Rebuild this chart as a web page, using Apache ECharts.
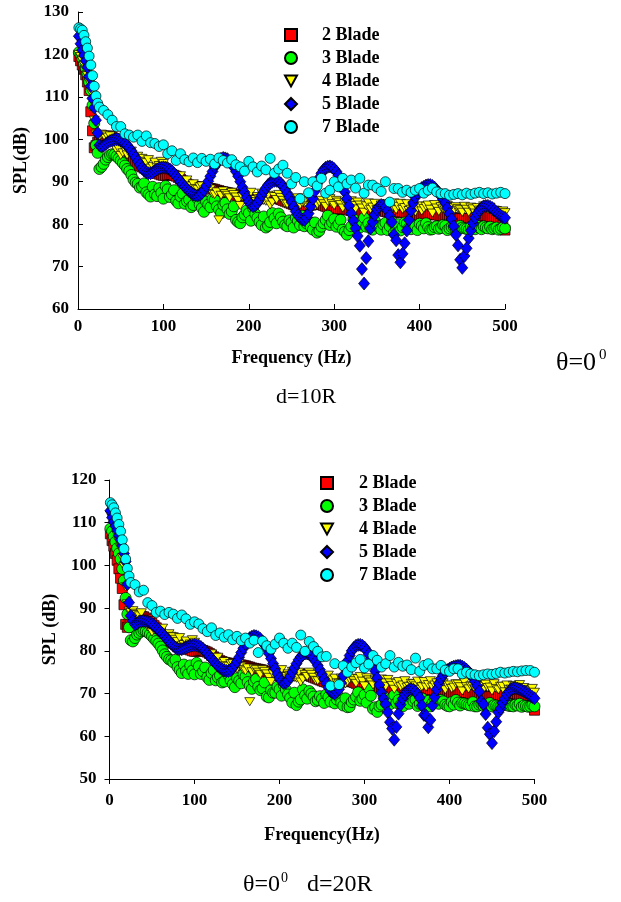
<!DOCTYPE html>
<html><head><meta charset="utf-8">
<script src="https://cdn.jsdelivr.net/npm/echarts@6/dist/echarts.min.js"></script>
<style>html,body{margin:0;padding:0;background:#fff}#c{width:621px;height:902px}</style>
</head><body><div id="c"></div>
<script>
// Frequency (Hz) of the samples
const freq = [1,3,5,7,9,11,13,15,17,19,21,23,25,30,35,40,45,50,55,60,65,70,75,80,85,90,95,100,105,110,115,120,125,130,135,140,145,150,155,160,165,170,175,180,185,190,195,200,205,210,215,220,225,230,235,240,245,250,255,260,265,270,275,280,285,290,295,300,305,310,315,320,325,330,335,340,345,350,355,360,365,370,375,380,385,390,395,400,405,410,415,420,425,430,435,440,445,450,455,460,465,470,475,480,485,490,495,500];
const freqMid = [27.5,32.5,37.5,42.5,47.5,52.5,57.5,62.5,67.5,72.5,
77.5,82.5,87.5,92.5,97.5,102.5,107.5,112.5,117.5,122.5,
127.5,132.5,137.5,142.5,147.5,152.5,157.5,162.5,167.5,172.5,
177.5,182.5,187.5,192.5,197.5,202.5,207.5,212.5,217.5,222.5,
227.5,232.5,237.5,242.5,247.5,252.5,257.5,262.5,267.5,272.5,
277.5,282.5,287.5,292.5,297.5,302.5,307.5,312.5,317.5,322.5,
327.5,332.5,337.5,342.5,347.5,352.5,357.5,362.5,367.5,372.5,
377.5,382.5,387.5,392.5,397.5,402.5,407.5,412.5,417.5,422.5,
427.5,432.5,437.5,442.5,447.5,452.5,457.5,462.5,467.5,472.5,
477.5,482.5,487.5,492.5,497.5];
const seriesNames = ['2 Blade','3 Blade','4 Blade','5 Blade','7 Blade'];
const xTicks = [0,100,200,300,400,500];
const yTicksTop = [60,70,80,90,100,110,120,130];
const yTicksBottom = [50,60,70,80,90,100,110,120];

// ---- d = 10R (values at freq) ----
const d10_2blade = [119.5,118.5,117.5,116.5,115.2,113.5,111.5,106.5,102,98,98.5,99.3,100,100.6,100.8,100.5,99.8,98.6,97.5,96,94.8,94,93.5,93,92.8,92.3,91.8,91.5,91.6,91.7,91.3,90.6,89.8,89.2,88.9,88.8,88.6,88.5,88.4,88.2,87.9,87.6,87.4,87.2,86.8,86.4,86.2,86,85.9,85.9,86.1,86.2,86.3,86.2,86,85.6,85.2,84.8,84.5,84.3,84.3,84.4,84.6,84.8,84.6,84.2,83.7,83.5,83.5,83.6,83.5,83.2,83,82.8,82.8,83,83.2,83.3,83.2,83,82.8,82.8,82.9,82.9,82.6,82.4,82.2,82,82,82.2,82.3,82.2,82,81.8,81.6,81.5,81.4,81.3,81.3,81.4,81.6,81.8,82,81.9,81.6,81.2,80.8,78.6];
const d10_3blade = [120.5,120,119,117.8,116.8,115.5,113.5,111.5,108,103.8,98.6,96.8,93,94.2,95.8,96.5,96,95,93.8,92.5,90.5,89.5,88.8,87.5,86.5,87,88.5,86,88.2,87,85.5,86.5,84.8,85.8,84.5,86,83.8,85.3,84,85.7,83.4,84.5,83.5,83,81,80.2,82.2,82.6,83.8,81.5,79.8,79.2,80.5,81.4,82.5,80.6,79.5,80.4,81.5,79.8,79.5,80.8,78.7,78,79.4,81,79.8,81.2,80,78.7,77.5,79.5,80.3,79.2,81.5,80.2,78.7,79.6,78.7,80.3,79.5,78,80,79.3,80.2,78.8,79.5,80.1,79,79.3,78.8,79.5,79.1,79.6,79,79.4,78.7,79.2,78.9,79.4,78.8,79.1,79.5,79,78.8,79.2,78.9,79];
const d10_4blade = [120,119.5,118.5,117.5,116.5,115,113.5,111.2,109,104.5,101.2,100.8,100.6,101,100.5,99.5,97.5,96.2,97.5,96.8,95.5,96,95.5,94.5,93.2,94.6,93.8,94.3,92.6,91.8,90.5,91.4,89.5,88.6,89.5,88.2,89,87.5,88.3,87,81,87.8,86.8,87.5,86.4,84.4,87.2,86.8,85.8,86.5,87.3,85.4,84.5,86.5,87,85.6,84.7,86,85.2,84.5,85.5,84,84.8,84.6,85.6,84.2,86,84.4,85.2,83.8,84.8,85.5,83.6,84.5,82.8,85,84,83.4,84.5,83.7,82.8,85,84.2,83.5,84.8,83.5,82.9,84.3,83.7,84.5,82.6,83.8,84.1,83.3,84,83.2,83.7,82.8,83.5,84,82.6,83.3,84.3,83.4,82.9,83.2,82.8,82.7];
const d10_5blade = [124.3,122.5,121,119.8,118.5,117,114.8,112.5,109.6,107.5,104.5,101.5,98.6,98.5,99.3,99.8,100,99.7,99,98,96.5,94.8,93.2,92.2,92,92.6,93.2,93.4,93.2,92.5,91.3,90,88.8,87.8,87,86.7,87.3,89,91.3,93.5,95,95.6,95.3,94.2,92.4,90,87.5,85.3,84.2,85,86.8,88.5,89.7,90.2,90,89,87.3,85.2,83,81.5,81,82.5,86,89.5,92,93.3,93.6,93,91.5,89,86,82.5,79,74.9,66,76,80.5,83.5,84.5,84,82,77.5,72.7,73,78.5,83.2,86.3,88,88.8,89.2,89,88,86.6,85,82.5,79.5,75,69.7,74.3,78.5,81.5,83.3,84.2,84.3,83.8,82.8,82,81.5];
const d10_7blade = [126.3,126,125.7,124.5,123,121.5,119.6,117.5,115,112.5,110.2,108.5,107.6,106.8,105.8,104.5,103,103,101.3,101,100.5,101,99.5,100.8,99.2,99,98.3,98.7,96.6,97.3,95,96.6,95.2,94.7,95.6,94.5,95.5,94.8,95.3,94.2,95.6,95,94.4,95.2,94,93.5,92.5,94.8,93.5,92.3,93.7,92.8,95.5,92,93,93.9,92,89.5,91,86,90,87.4,90,89,90.8,87.3,88,90,88.8,90.8,89.5,90.4,88.5,90.8,87.3,89.2,89.2,88.5,87.7,90,85.2,88.4,88.4,87.5,88,87.5,88,88.4,87.3,88,88.5,87.6,87.2,87.2,86.8,87,87.2,86.9,87.3,87,87.3,87.5,87.2,87.4,87.1,87.3,87.5,87.2];
// ---- d = 10R (values at freqMid; the 7 Blade data has no mid samples) ----
const d10_2blade_mid = [100.3,100.7,100.7,100.2,99.2,98.1,96.8,95.4,94.4,93.7,
93.2,92.9,92.5,92,91.6,91.5,91.7,91.5,91,90.2,
89.5,89,88.8,88.7,88.5,88.4,88.3,88,87.7,87.5,
87.3,87,86.6,86.3,86.1,85.9,85.9,86,86.2,86.3,
86.3,86.1,85.8,85.4,85,84.6,84.4,84.3,84.3,84.5,
84.7,84.7,84.4,84,83.6,83.5,83.6,83.6,83.3,83.1,
82.9,82.8,82.9,83.1,83.3,83.3,83.1,82.9,82.8,82.8,
82.9,82.8,82.5,82.3,82.1,82,82.1,82.3,82.3,82.1,
81.9,81.7,81.5,81.4,81.3,81.3,81.3,81.5,81.7,81.9,
82,81.8,81.4,81,80.4];
const d10_3blade_mid = [93.5,95.2,96.3,96.4,95.5,94.4,93,91.6,89.8,88.6,
89.6,87,88.8,86.6,87.4,89,86.4,88,84.9,87.2,
85.4,84,86.6,84.6,82.9,84.6,86,84.2,82.6,85,
82.4,84.2,80.5,81.6,83.2,80.8,82.4,80.5,81.8,79.6,
82.6,80.2,81.6,79.8,80.9,79.2,80.8,82,80.2,79.3,
80.4,78.4,80.2,82,80.4,79.4,81,78.2,78.6,81.2,
79.8,80.6,79.4,79,80.8,79.2,79.9,78.6,80.6,79,
78.5,80.4,79.1,79.8,78.6,79.6,80.2,78.7,79.3,78.9,
79.8,78.6,79.3,78.9,79.6,79,78.7,79.2,79.6,78.8,
79.2,79.4,79,78.7,79.2];
const d10_4blade_mid = [101.2,100.2,100.8,98.6,97.8,96.8,96.3,97.2,95.2,95.4,
94.8,95.2,93.6,93.4,94.8,93.2,92.2,91.2,90.2,89.8,
90.4,89,88.4,88.8,87.6,88.6,87.2,87.6,86.8,87.2,
86.2,87,85.6,86.4,86.2,87.5,85.3,86,85.6,86.8,
85.2,85.8,86.3,84.9,85.7,84.6,86.2,85.1,84.3,85.4,
84.2,85.2,84.8,85.4,84.8,85.6,84.6,85,84.2,84.4,
85.2,83.8,84.3,83.5,84.9,83.6,84.2,84.8,83.5,83.4,
84.9,83.9,83.2,84.4,83.8,83.1,84.2,83.5,84.6,83,
83.6,84.4,82.9,84.1,83.4,84.2,82.8,83.6,83.9,82.9,
83.6,84,83.3,82.7,83.1];
const d10_5blade_mid = [98.3,98.9,99.6,99.9,99.9,99.4,98.6,97.3,95.7,94,
92.6,92,92.2,92.9,93.3,93.3,92.9,91.9,90.7,89.4,
88.3,87.4,86.8,86.9,88,90.1,92.4,94.3,95.4,95.5,
94.8,93.4,91.3,88.7,86.3,84.6,84.4,85.8,87.7,89.2,
90,90.2,89.6,88.2,86.3,84.1,82.1,81.1,81.5,84.2,
87.8,90.9,92.8,93.5,93.4,92.4,90.3,87.6,84.3,80.8,
77.2,69.4,72,79,82.2,84.1,84.4,83.2,80.5,76.2,
71,75.5,81,85,87.3,88.5,89.1,89.2,88.6,87.4,
85.8,83.8,81.2,77.5,71.6,72.5,76.7,80.2,82.5,83.8,
84.3,84.1,83.3,82.4,81.7];

// ---- d = 20R (values at freq) ----
const d20_2blade = [107.4,105.8,104.5,102.8,101.2,99.2,97,94.6,90.8,86.2,85.5,86.4,87.3,88,88.2,88,87.4,86.4,85.4,84.2,83,82.3,81.8,81.4,81.1,80.7,80.2,79.9,80,80.1,79.7,79,78.3,77.7,77.3,77.1,76.9,76.8,76.7,76.5,76.2,75.9,75.7,75.5,75.1,74.7,74.4,74.2,74.1,74.1,74.3,74.4,74.5,74.4,74.2,73.8,73.4,73,72.7,72.5,72.5,72.6,72.8,73,72.8,72.4,71.9,71.7,71.7,71.8,71.6,71.3,71.1,70.9,70.9,71.1,71.3,71.4,71.3,71.1,70.9,70.8,70.9,70.9,70.6,70.4,70.2,70,70,70.2,70.3,70.2,70,69.8,69.6,69.5,69.4,69.3,69.3,69.4,69.6,69.8,70,69.9,69.6,69.2,68.8,66.1];
const d20_3blade = [108.6,108,106.8,105.5,104,102.8,101.5,99.2,96.5,92.4,88.6,85.5,82.5,83,84.2,84.8,84.3,83.4,82.3,81,79.2,78,77.3,76.2,74.8,75.3,76.6,74.5,76.4,75.2,73.8,74.8,73.1,74.2,72.8,74.3,72.2,73.6,72.4,74,71.8,72.8,71.6,71.2,69.3,70.8,70.2,71,72,69.8,67.9,67.3,68.6,69.6,70.6,69.3,68.5,68.8,69.8,68.1,67.7,69.2,67.2,66.8,68,69.3,68.3,69.7,71.3,66.4,65.7,67.4,67.8,67.5,69.6,68.5,67,68.2,69,68.6,67.6,67.8,68.3,67.8,68.6,68.5,67.4,67,67.4,67.9,67.8,67.5,67.2,67,67.4,67.1,67.3,67,67.2,67,67.3,67.1,67,67.2,66.9,67.1,67,67];
const d20_4blade = [111.8,111,109.6,108.5,107,105.5,104,101.8,99.8,95,91,89.3,89,88.8,88.2,87.3,85.6,84.4,85.2,84.6,83.4,84,83.3,82.2,81.2,82.3,81.6,82,80.6,79.8,78.6,79.3,77.6,76.8,77.5,76.4,77,75.8,76.4,75.3,68.1,75.8,75,75.6,74.6,72.8,75.3,74.8,74,74.6,75.2,73.6,72.7,74.5,75,73.8,73,74.2,73.4,72.8,73.6,72.4,73,72.8,73.6,72.4,74,71.8,73.2,72,72.8,73.4,71.7,72.5,71,72.8,72,71.5,72.4,71.8,71,72.8,72.1,71.5,72.5,71.4,70.9,72,71.5,72.2,70.6,71.6,71.8,71.1,71.7,71,71.4,70.6,71.2,71.7,70.4,71,71.9,71.1,70.6,70.9,70.6,70.3];
const d20_5blade = [112.8,111.2,110.2,109.2,108.3,107,106,104.6,102.8,100.9,95.6,91.3,88.2,86.2,86.8,87,86.8,86.3,85.4,84.5,83.4,82.3,81.2,80.5,80.4,80.8,81.2,81.4,81.2,80.5,79.4,78.2,77,76,75.4,75.3,76,77.5,79.6,81.6,83,83.5,83.2,82.2,80.5,78.2,75.8,73.6,72.4,73,75,77,78.6,79.4,79.2,78.3,76.6,74.5,72.4,70.6,70,71,74.2,77.6,80,81.2,81.4,80.8,79.2,76.8,73.6,70.2,67.5,63.3,59.2,65.3,68.8,70.5,71,70.5,69,65,62.1,67.2,71,73.5,75,75.8,76.3,76.5,76.3,75.6,74.5,72.8,70.5,67.5,62,58.4,63.4,66.5,68.8,70.5,71.2,71.2,70.8,70.2,69.5,68.9];
const d20_7blade = [114.7,114.2,113.5,112.3,111.1,109.6,108,106,103.9,101.5,99.3,97.5,96,95.5,93.8,94.2,91.3,90.6,89,89.3,88.5,89,88.6,87.6,88.4,87.5,86.2,86.8,86.3,85.2,84.5,85.4,83.6,84.2,83.2,83.8,82.6,83.4,82.4,83,81.8,82.5,79.6,82.3,81.2,80.4,81.6,83,81.8,80.6,81.8,80.8,83.7,79.9,82.2,81,79.9,78.6,78.7,71.8,77,72.1,76.5,75,76.2,77.2,78,76,76.9,78.9,77.8,76.2,77,78.9,76.2,77.3,76.4,76.7,75.6,78.3,75.2,76.6,77,75.8,75.8,76.6,75.5,75.2,75.8,75.8,74.6,75,74.6,74.4,74.2,74.4,74.6,74.5,74.7,75,74.8,75,75.2,75.1,75.3,75.4,75.4,75];
// ---- d = 20R (values at freqMid; the 7 Blade data has no mid samples) ----
const d20_2blade_mid = [87.7,88.1,88.1,87.7,86.9,85.9,84.8,83.6,82.6,82,
81.6,81.2,80.9,80.4,80,79.9,80.1,79.9,79.4,78.6,
78,77.5,77.2,77,76.8,76.7,76.6,76.3,76,75.8,
75.6,75.3,74.9,74.5,74.3,74.1,74.1,74.2,74.3,74.5,
74.5,74.3,74,73.6,73.2,72.8,72.6,72.5,72.5,72.7,
72.9,72.9,72.6,72.1,71.8,71.7,71.8,71.7,71.4,71.2,
71,70.9,71,71.2,71.4,71.4,71.2,71,70.8,70.8,
70.9,70.8,70.5,70.3,70.1,70,70.1,70.3,70.3,70.1,
69.9,69.7,69.5,69.4,69.3,69.3,69.3,69.5,69.7,69.9,
70,69.8,69.4,69,68.3];
const d20_3blade_mid = [82.2,83.8,84.6,84.6,83.9,82.8,81.7,80.1,78.6,77.8,
77.9,75.5,76.8,74.6,75.4,77.2,74.6,76.1,73.2,75.5,
73.8,72.6,74.9,73.1,71.5,73,74.5,72.7,71.1,73.4,
70.8,72.6,69.1,70.2,71.6,69.5,70.9,69,70.2,68.1,
71,68.8,70,68.2,69.4,67.8,69.2,70.4,68.6,67.8,
68.9,66.9,68.6,70.3,68.8,67.9,69.5,66.8,67,69.4,
68.3,69,67.8,67.4,69.1,67.6,68.2,67.1,68.9,67.4,
67,68.8,67.6,68.2,67.1,68,68.5,67.2,67.7,67.3,
68,67,67.6,67.2,67.8,67.3,67,67.4,67.8,67.1,
67.4,67.6,67.2,66.9,67.3];
const d20_4blade_mid = [89.4,88.5,88.9,86.6,85.9,84.9,84.2,85.3,83.1,83.4,
82.7,83.1,81.5,81.2,82.6,81,80.1,79.2,78.2,77.8,
78.5,77.1,76.5,77,75.9,77,75.6,76,75.1,75.6,
74.5,75.2,73.8,74.6,74.3,75.6,73.4,74.2,73.8,75,
73.4,74,74.5,73.1,73.9,72.8,74.3,73.2,72.5,73.6,
72.3,73.4,73,73.5,72.9,73.7,72.7,73.1,72.3,72.5,
73.3,71.9,72.4,71.6,73,71.7,72.3,72.9,71.6,71.5,
73,72,71.3,72.5,71.9,71.2,72.3,71.6,72.7,71.1,
71.7,72.5,71,72.2,71.5,72.3,70.9,71.7,72,71,
71.7,72.1,71.4,70.8,71.2];
const d20_5blade_mid = [87,86.4,86.9,86.9,86.6,85.9,85,84,82.8,81.7,
80.8,80.4,80.6,81,81.3,81.3,80.9,80,78.8,77.6,
76.5,75.7,75.3,75.5,76.7,78.5,80.6,82.3,83.3,83.4,
82.8,81.4,79.4,77,74.6,72.9,72.6,74,76,77.9,
79.1,79.4,78.8,77.5,75.6,73.4,71.4,70.2,70.4,72.5,
76,78.9,80.7,81.4,81.2,80.1,78.1,75.3,72,68.8,
65.6,61.8,62.2,67.4,69.8,70.9,70.9,69.9,67.2,64.8,
63.8,69.2,72.4,74.3,75.5,76.1,76.4,76.5,76,75.1,
73.7,71.8,68.2,65.2,60.5,61.2,65.6,67.8,69.8,71,
71.3,71,70.5,69.9,69.2];

const panels = [
  {main:[d10_2blade,d10_3blade,d10_4blade,d10_5blade,d10_7blade],
   mid:[d10_2blade_mid,d10_3blade_mid,d10_4blade_mid,d10_5blade_mid,[]]},
  {main:[d20_2blade,d20_3blade,d20_4blade,d20_5blade,d20_7blade],
   mid:[d20_2blade_mid,d20_3blade_mid,d20_4blade_mid,d20_5blade_mid,[]]}
];
const looks = [
  {symbol:'rect', size:[10,10], color:'#FF0000'},
  {symbol:'circle', size:[11,11], color:'#00FF00'},
  {symbol:'path://M0,0L10,0L5,9Z', size:[10,9], color:'#FFFF00'},
  {symbol:'diamond', size:[11,13], color:'#0000FF'},
  {symbol:'circle', size:[10,10], color:'#00FFFF'}
];
const FONT = '"Liberation Serif","Times New Roman",serif';
const chart = echarts.init(document.getElementById('c'), null, {renderer:'canvas'});
const series = [];
panels.forEach((p, pi) => {
  p.main.forEach((vals, si) => {
    const pts = [];
    vals.forEach((v, i) => pts.push([freq[i], v]));
    p.mid[si].forEach((v, i) => pts.push([freqMid[i], v]));
    pts.sort((a, b) => a[0] - b[0]);
    series.push({
      type:'scatter', name:seriesNames[si], xAxisIndex:pi, yAxisIndex:pi,
      symbol:looks[si].symbol, symbolSize:looks[si].size, symbolKeepAspect:true,
      itemStyle:{color:looks[si].color, borderColor:'#000', borderWidth:0.7, opacity:1},
      emphasis:{disabled:true}, animation:false, large:false,
      data: pts
    });
  });
});
function axisX(gi, inside, name, gap, lblMargin) {
  return {type:'value', gridIndex:gi, min:xTicks[0], max:xTicks[xTicks.length-1], interval:100,
    name:name, nameLocation:'middle', nameGap:gap,
    nameTextStyle:{fontFamily:FONT, fontWeight:'bold', fontSize:18, color:'#000'},
    axisLine:{show:true, lineStyle:{color:'#000', width:1}},
    axisTick:{show:true, inside:inside, length:5, lineStyle:{color:'#000'}},
    splitLine:{show:false},
    axisLabel:{fontFamily:FONT, fontWeight:'bold', fontSize:17, color:'#000', margin:lblMargin}};
}
function axisY(gi, inside, name, gap, ticks, lblMargin) {
  return {type:'value', gridIndex:gi, min:ticks[0], max:ticks[ticks.length-1], interval:10,
    name:name, nameLocation:'middle', nameGap:gap,
    nameTextStyle:{fontFamily:FONT, fontWeight:'bold', fontSize:18, color:'#000'},
    axisLine:{show:true, lineStyle:{color:'#000', width:1}},
    axisTick:{show:true, inside:inside, length:5, lineStyle:{color:'#000'}},
    splitLine:{show:false},
    axisLabel:{fontFamily:FONT, fontWeight:'bold', fontSize:17, color:'#000', margin:lblMargin}};
}
const legendText = {fontFamily:FONT, fontWeight:'bold', fontSize:18, color:'#000', lineHeight:16};
chart.setOption({
  backgroundColor:'#fff',
  animation:false,
  grid:[
    {left:78, top:12, width:427, height:297},
    {left:109.5, top:480, width:425, height:299}
  ],
  xAxis:[axisX(0,true,'Frequency (Hz)',40,9), axisX(1,false,'Frequency(Hz)',47,13)],
  yAxis:[axisY(0,true,'SPL(dB)',48,yTicksTop,9), axisY(1,false,'SPL (dB)',50,yTicksBottom,13)],
  legend:[
    {orient:'vertical', left:279, top:21, itemWidth:12, itemHeight:12, itemGap:5,
     textStyle:Object.assign({padding:[0,0,0,20]}, legendText), data:seriesNames, selectedMode:false},
    {orient:'vertical', left:315, top:469, itemWidth:12, itemHeight:12, itemGap:5,
     textStyle:Object.assign({padding:[0,0,0,21]}, legendText), data:seriesNames, selectedMode:false}
  ],
  graphic:[
    {type:'text', left:556, top:350, style:{text:'θ=0', font:'26px '+FONT, fill:'#000'}},
    {type:'text', left:599, top:348, style:{text:'0', font:'15px '+FONT, fill:'#000'}},
    {type:'text', left:276, top:386, style:{text:'d=10R', font:'22px '+FONT, fill:'#000'}},
    {type:'text', left:243, top:873, style:{text:'θ=0', font:'24px '+FONT, fill:'#000'}},
    {type:'text', left:281, top:871, style:{text:'0', font:'14px '+FONT, fill:'#000'}},
    {type:'text', left:307, top:873, style:{text:'d=20R', font:'24px '+FONT, fill:'#000'}}
  ],
  series:series
});
</script></body></html>
